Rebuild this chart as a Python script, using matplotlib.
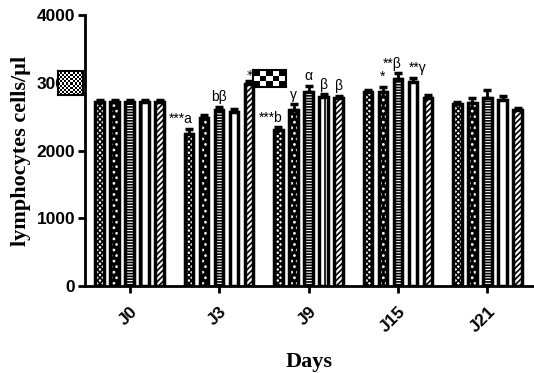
import numpy as np
import matplotlib
matplotlib.use("Agg")
import matplotlib.pyplot as plt

days = ["J0", "J3", "J9", "J15", "J21"]

# five groups of bars per day
g1 = [2710, 2250, 2300, 2860, 2680]
g2 = [2710, 2480, 2600, 2870, 2700]
g3 = [2710, 2600, 2870, 3060, 2780]
g4 = [2710, 2570, 2790, 3010, 2740]
g5 = [2710, 2980, 2770, 2780, 2600]
e1 = [40, 70, 40, 30, 30]
e2 = [40, 40, 80, 70, 70]
e3 = [40, 40, 80, 80, 110]
e4 = [40, 40, 40, 60, 60]
e5 = [40, 40, 40, 40, 30]

# significance marks: (day index, group index, text)
marks = [(1, 0, "***a"), (1, 2, "bβ"), (2, 0, "***b"), (2, 1, "γ"),
         (2, 2, "α"), (2, 3, "β"), (2, 4, "β"), (3, 1, "*"),
         (3, 2, "**β"), (3, 3, "**γ")]

plt.rcParams['hatch.linewidth'] = 1.2

fig = plt.figure(figsize=(5.34, 3.73), dpi=100)
ax = fig.add_axes([0.159, 0.233, 0.841, 0.727])

x = np.arange(len(days))
slot = 0.168
w = 0.095
values = [g1, g2, g3, g4, g5]
errs = [e1, e2, e3, e4, e5]
hatches = ["xxxxxx", None, "------", "|", "//////"]

for i, (v, e) in enumerate(zip(values, errs)):
    pos = x + (i - 2) * slot
    ax.errorbar(pos, v, yerr=[np.zeros(len(e)), e], fmt="none",
                ecolor="black", elinewidth=2, capsize=3, capthick=2.5, zorder=1)
    if i == 1:
        # black bar with white checker squares
        ax.bar(pos, v, w, color="black", edgecolor="white", hatch="...",
               linewidth=0, zorder=2)
        ax.bar(pos, v, w, fill=False, edgecolor="black", linewidth=2.5,
               zorder=3)
    else:
        ax.bar(pos, v, w, color="white", edgecolor="black", hatch=hatches[i],
               linewidth=2.5, zorder=2)

for d, g, t in marks:
    top = values[g][d] + errs[g][d]
    xp = x[d] + (g - 2) * slot
    if t.startswith("*") and len(t) > 1 and t != "**γ":
        ax.text(xp + 0.045, top + 40, t, ha="right", va="bottom",
                fontsize=10, family="Liberation Sans")
    elif t == "**γ":
        ax.text(xp - 0.05, top + 40, t, ha="left", va="bottom",
                fontsize=10, family="Liberation Sans")
    else:
        ax.text(xp, top + 40, t, ha="center", va="bottom",
                fontsize=10, family="Liberation Sans")

ax.set_xlim(-0.5, 4.52)
ax.set_ylim(0, 4000)
ax.set_yticks([0, 1000, 2000, 3000, 4000])
ax.set_xticks(x)
ax.set_xticklabels(days, rotation=45, ha="right", rotation_mode="anchor")
for lab in ax.get_xticklabels() + ax.get_yticklabels():
    lab.set_fontfamily("Liberation Sans")
    lab.set_fontweight("bold")
    lab.set_fontsize(12.5)
ax.spines["top"].set_visible(False)
ax.spines["right"].set_visible(False)
ax.spines["left"].set_linewidth(2)
ax.spines["bottom"].set_linewidth(2)
ax.tick_params(width=2, length=5)
ax.tick_params(axis="x", pad=8)
ax.tick_params(axis="y", pad=2)

ax.set_ylabel("lymphocytes cells/µl", family="Liberation Serif",
              fontweight="bold", fontsize=16, labelpad=4)
ax.set_xlabel("Days", family="Liberation Serif", fontweight="bold",
              fontsize=16, labelpad=12)

# stray legend swatches seen in the picture
fine = np.indices((12, 12)).sum(axis=0) % 2
sw1 = fig.add_axes([58 / 534, 1 - 95 / 373, 25 / 534, 24 / 373])
sw1.imshow(fine, cmap="gray", interpolation="nearest", aspect="auto")
sw1.set_xticks([])
sw1.set_yticks([])
for s in sw1.spines.values():
    s.set_linewidth(1.5)

coarse = np.indices((3, 5)).sum(axis=0) % 2
sw2 = fig.add_axes([253 / 534, 1 - 87 / 373, 33 / 534, 17 / 373])
sw2.imshow(coarse, cmap="gray", interpolation="nearest", aspect="auto")
sw2.set_xticks([])
sw2.set_yticks([])
for s in sw2.spines.values():
    s.set_linewidth(1.5)
fig.text(250 / 534, 1 - 75 / 373, "*", ha="center", va="center", fontsize=9)

fig.savefig("out.png", dpi=100)
